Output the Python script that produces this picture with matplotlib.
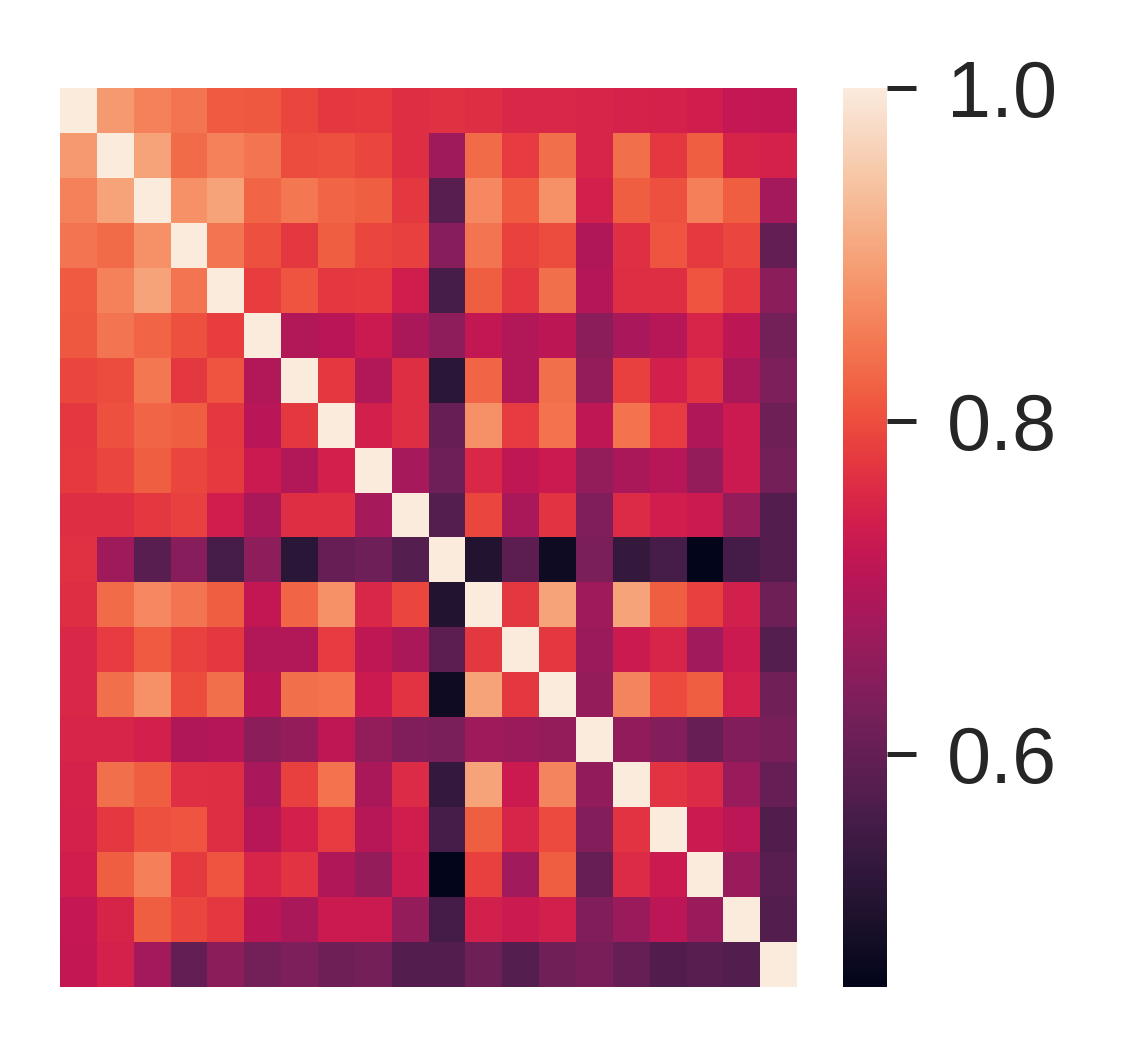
import numpy as np
import matplotlib
matplotlib.use('Agg')
import matplotlib.pyplot as plt
import seaborn as sns

sns.set_theme(style='white')
plt.rcParams['font.family'] = ['Liberation Sans', 'DejaVu Sans']

# correlation matrix, 20 x 20
row00 = [1.000, 0.887, 0.858, 0.843, 0.813, 0.811, 0.793, 0.775, 0.777, 0.762, 0.766, 0.762, 0.754, 0.754, 0.749, 0.745, 0.743, 0.737, 0.720, 0.718]
row01 = [0.887, 1.000, 0.900, 0.833, 0.858, 0.843, 0.798, 0.803, 0.793, 0.762, 0.675, 0.833, 0.779, 0.836, 0.749, 0.836, 0.775, 0.818, 0.747, 0.743]
row02 = [0.858, 0.900, 1.000, 0.877, 0.900, 0.823, 0.848, 0.823, 0.818, 0.775, 0.585, 0.867, 0.813, 0.877, 0.742, 0.818, 0.803, 0.856, 0.818, 0.680]
row03 = [0.843, 0.833, 0.877, 1.000, 0.843, 0.803, 0.775, 0.818, 0.793, 0.784, 0.645, 0.843, 0.789, 0.798, 0.695, 0.764, 0.808, 0.777, 0.793, 0.598]
row04 = [0.813, 0.858, 0.900, 0.843, 1.000, 0.782, 0.808, 0.775, 0.777, 0.737, 0.560, 0.818, 0.775, 0.836, 0.700, 0.762, 0.762, 0.808, 0.775, 0.648]
row05 = [0.811, 0.843, 0.823, 0.803, 0.782, 1.000, 0.697, 0.705, 0.728, 0.688, 0.653, 0.718, 0.697, 0.712, 0.648, 0.684, 0.703, 0.749, 0.712, 0.620]
row06 = [0.793, 0.798, 0.848, 0.775, 0.808, 0.697, 1.000, 0.775, 0.698, 0.762, 0.520, 0.823, 0.697, 0.836, 0.662, 0.784, 0.741, 0.768, 0.686, 0.632]
row07 = [0.775, 0.803, 0.823, 0.818, 0.775, 0.705, 0.775, 1.000, 0.741, 0.762, 0.602, 0.877, 0.779, 0.841, 0.715, 0.841, 0.779, 0.695, 0.730, 0.610]
row08 = [0.777, 0.793, 0.818, 0.793, 0.777, 0.728, 0.698, 0.741, 1.000, 0.682, 0.612, 0.754, 0.715, 0.728, 0.660, 0.686, 0.703, 0.662, 0.728, 0.622]
row09 = [0.762, 0.762, 0.775, 0.784, 0.737, 0.688, 0.762, 0.762, 0.682, 1.000, 0.580, 0.793, 0.688, 0.770, 0.635, 0.758, 0.738, 0.730, 0.662, 0.578]
row10 = [0.766, 0.675, 0.585, 0.645, 0.560, 0.653, 0.520, 0.602, 0.612, 0.580, 1.000, 0.510, 0.590, 0.480, 0.630, 0.535, 0.560, 0.460, 0.558, 0.578]
row11 = [0.762, 0.833, 0.867, 0.843, 0.818, 0.718, 0.823, 0.877, 0.754, 0.793, 0.510, 1.000, 0.775, 0.900, 0.675, 0.900, 0.818, 0.784, 0.741, 0.610]
row12 = [0.754, 0.779, 0.813, 0.789, 0.775, 0.697, 0.697, 0.779, 0.715, 0.688, 0.590, 0.775, 1.000, 0.775, 0.668, 0.730, 0.751, 0.677, 0.730, 0.580]
row13 = [0.754, 0.836, 0.877, 0.798, 0.836, 0.712, 0.836, 0.841, 0.728, 0.770, 0.480, 0.900, 0.775, 1.000, 0.662, 0.862, 0.796, 0.818, 0.741, 0.615]
row14 = [0.749, 0.749, 0.742, 0.695, 0.700, 0.648, 0.662, 0.715, 0.660, 0.635, 0.630, 0.675, 0.668, 0.662, 1.000, 0.658, 0.640, 0.602, 0.637, 0.625]
row15 = [0.745, 0.836, 0.818, 0.764, 0.762, 0.684, 0.784, 0.841, 0.686, 0.758, 0.535, 0.900, 0.730, 0.862, 0.658, 1.000, 0.770, 0.758, 0.668, 0.602]
row16 = [0.743, 0.775, 0.803, 0.808, 0.762, 0.703, 0.741, 0.779, 0.703, 0.738, 0.560, 0.818, 0.751, 0.796, 0.640, 0.770, 1.000, 0.730, 0.710, 0.573]
row17 = [0.737, 0.818, 0.856, 0.777, 0.808, 0.749, 0.768, 0.695, 0.662, 0.730, 0.460, 0.784, 0.677, 0.818, 0.602, 0.758, 0.730, 1.000, 0.668, 0.585]
row18 = [0.720, 0.747, 0.818, 0.793, 0.775, 0.712, 0.686, 0.730, 0.728, 0.662, 0.558, 0.741, 0.730, 0.741, 0.637, 0.668, 0.710, 0.668, 1.000, 0.575]
row19 = [0.718, 0.743, 0.680, 0.598, 0.648, 0.620, 0.632, 0.610, 0.622, 0.578, 0.578, 0.610, 0.580, 0.615, 0.625, 0.602, 0.573, 0.585, 0.575, 1.000]

corr = np.array([row00, row01, row02, row03, row04, row05, row06, row07, row08, row09,
                 row10, row11, row12, row13, row14, row15, row16, row17, row18, row19])

fig = plt.figure(figsize=(11.22, 10.47), dpi=100)
ax = fig.add_axes([0.0535, 0.0573, 0.6569, 0.8587])
cax = fig.add_axes([0.7513, 0.0573, 0.0392, 0.8587])

sns.heatmap(corr, ax=ax, cbar_ax=cax, cmap='rocket',
            xticklabels=False, yticklabels=False)

cax.set_yticks([0.6, 0.8, 1.0])
cax.tick_params(labelsize=57, length=21, width=3.6, pad=22, colors='#262626')
for s in cax.spines.values():
    s.set_visible(False)

fig.savefig('out.png', dpi=100)
